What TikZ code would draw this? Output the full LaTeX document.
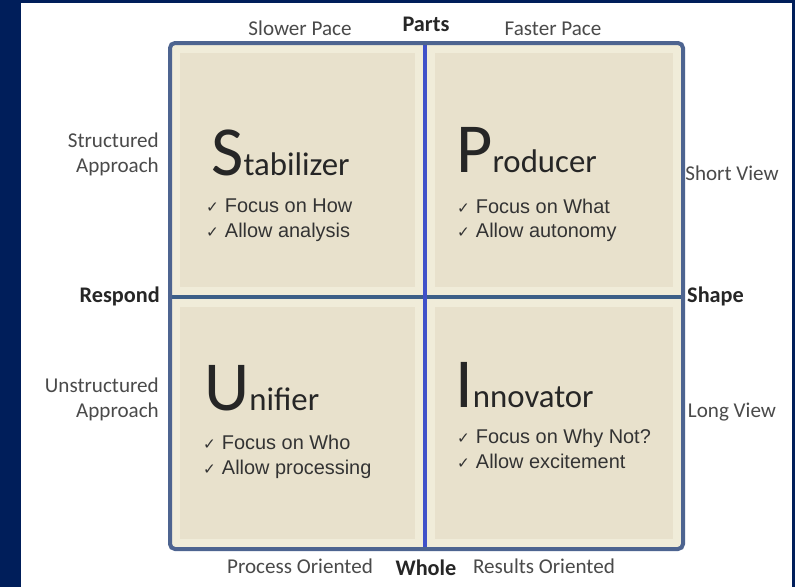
\documentclass[tikz,border=0pt]{standalone}
\usepackage{fontspec}
\setmainfont{Carlito}
\newfontfamily\listfont{Liberation Sans}
\newfontfamily\tickfont{DejaVu Sans}
\usepackage{xcolor}

\definecolor{navy}{HTML}{001E5A}
\definecolor{paper}{HTML}{E8E1CC}
\definecolor{paperedge}{HTML}{F0ECD9}
\definecolor{framecol}{HTML}{4D6490}
\definecolor{vlinecol}{HTML}{3F51C9}
\definecolor{hlinecol}{HTML}{3C5F88}
\definecolor{labelgray}{HTML}{4A4A4A}

\newcommand{\tick}{{\tickfont\fontsize{13}{13}\selectfont ✓}\hspace{0.3em}}
\newcommand{\initial}[1]{{\fontsize{60}{60}\selectfont #1}}

\begin{document}
\begin{tikzpicture}[x=0.3mm,y=-0.3mm,
    axislabel/.style={inner sep=0pt,anchor=base,text=labelgray,font=\fontsize{18}{21}\selectfont},
    sidelabel/.style={axislabel,anchor=base east,align=right},
    boldlabel/.style={inner sep=0pt,anchor=base,text=black!85,font=\bfseries\fontsize{19}{21}\selectfont},
    qtitle/.style={inner sep=0pt,anchor=base west,text=black!85,font=\fontsize{28}{30}\selectfont},
    qitem/.style={inner sep=0pt,anchor=base west,text=black!80,font=\listfont\fontsize{17}{20}\selectfont}]

  \useasboundingbox (0,0) rectangle (795,587);

  % Page
  \fill[navy] (0,0) rectangle (795,587);
  \fill[white] (21,3) rectangle (792,587);

  % Quadrants
  \foreach \xa/\ya/\xb/\yb in {170/43/425/297, 425/43/683/297, 170/297/425/549, 425/297/683/549}{
    \fill[paperedge] (\xa,\ya) rectangle (\xb,\yb);
    \fill[paper] (\xa+10,\ya+10) rectangle (\xb-10,\yb-10);
  }

  % Dividers and frame
  \draw[hlinecol,line width=1mm] (170,297) -- (683,297);
  \draw[vlinecol,line width=1mm] (425,43) -- (425,549);
  \draw[framecol,line width=1.2mm,rounded corners=1.5mm] (170,43) rectangle (683,549);

  % Top and bottom labels
  \node[axislabel] (slow) at (300,35) {Slower Pace};
  \node[boldlabel] (parts) at (426,31) {Parts};
  \node[axislabel] (fast) at (553,35) {Faster Pace};
  \node[axislabel] (process) at (300,573) {Process Oriented};
  \node[boldlabel] (whole) at (426,575) {Whole};
  \node[axislabel] (results) at (544,573) {Results Oriented};

  % Side labels
  \node[sidelabel] (struct) at (159,172) {Structured\\Approach};
  \node[boldlabel,anchor=base east] (respond) at (160,302) {Respond};
  \node[sidelabel] (unstruct) at (159,417) {Unstructured\\Approach};
  \node[axislabel] (short) at (732,180) {Short View};
  \node[boldlabel,anchor=base west] (shape) at (687,302) {Shape};
  \node[axislabel] (long) at (732,417) {Long View};

  % Stabilizer
  \node[qtitle] (stab) at (211,175) {\initial{S}tabilizer};
  \node[qitem] (stab1) at (206,212) {\tick Focus on How};
  \node[qitem] (stab2) at (206,237) {\tick Allow analysis};

  % Producer
  \node[qtitle] (prod) at (456,172) {\initial{P}roducer};
  \node[qitem] (prod1) at (457,213) {\tick Focus on What};
  \node[qitem] (prod2) at (457,237) {\tick Allow autonomy};

  % Unifier
  \node[qtitle] (unif) at (204,410) {\initial{U}nifier};
  \node[qitem] (unif1) at (203,449) {\tick Focus on Who};
  \node[qitem] (unif2) at (203,474) {\tick Allow processing};

  % Innovator
  \node[qtitle] (innov) at (455,407) {\initial{I}nnovator};
  \node[qitem] (innov1) at (457,443) {\tick Focus on Why Not?};
  \node[qitem] (innov2) at (457,468) {\tick Allow excitement};

\end{tikzpicture}
\end{document}
